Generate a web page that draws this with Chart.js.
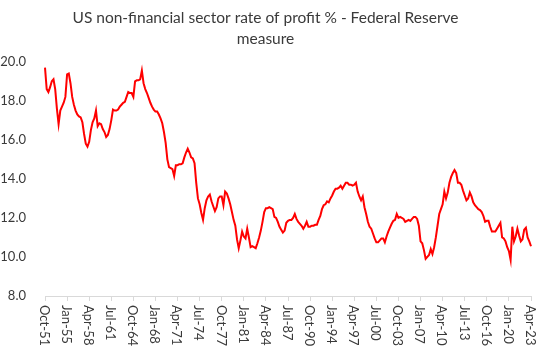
<!DOCTYPE html>
<html>
<head>
<meta charset="utf-8">
<script src="https://cdn.jsdelivr.net/npm/chart.js@4/dist/chart.umd.min.js"></script>
<style>
  html, body { margin: 0; padding: 0; background: #fff; }
  #wrap { width: 540px; height: 351px; }
</style>
</head>
<body>
<div id="wrap"><canvas id="chart"></canvas></div>
<script>
'use strict';

// quarterly series, Oct-51 .. Apr-23
var profitRate = [
  19.7, 18.6, 18.45, 18.7, 19.0, 19.1, 18.6, 17.6, 16.8, 17.5,
  17.7, 17.9, 18.2, 19.35, 19.4, 18.9, 18.2, 17.8, 17.5, 17.3,
  17.2, 17.15, 16.9, 16.3, 15.8, 15.65, 15.9, 16.5, 16.9, 17.1,
  17.5, 16.7, 16.85, 16.8, 16.55, 16.4, 16.15, 16.25, 16.55, 17.0,
  17.55, 17.5, 17.5, 17.55, 17.7, 17.8, 17.9, 17.95, 18.2, 18.45,
  18.4, 18.4, 18.2, 19.0, 19.05, 19.05, 19.1, 19.55, 18.9, 18.6,
  18.4, 18.15, 17.9, 17.7, 17.55, 17.45, 17.45, 17.3, 17.1, 16.85,
  16.4, 15.85, 15.0, 14.6, 14.55, 14.5, 14.15, 14.7, 14.7, 14.75,
  14.75, 14.8, 15.1, 15.35, 15.55, 15.35, 15.1, 15.05, 14.8, 13.8,
  13.0, 12.7, 12.25, 11.9, 12.5, 12.9, 13.1, 13.2, 12.85, 12.6,
  12.35, 12.55, 13.0, 13.1, 13.1, 12.65, 13.35, 13.25, 13.0, 12.7,
  12.3, 11.9, 11.6, 10.9, 10.45, 10.85, 11.3, 11.05, 10.95, 11.45,
  11.0, 10.5, 10.55, 10.5, 10.45, 10.7, 11.0, 11.35, 11.8, 12.3,
  12.5, 12.5, 12.55, 12.5, 12.45, 12.05, 12.0, 11.8, 11.55, 11.4,
  11.25, 11.35, 11.75, 11.85, 11.9, 11.9, 12.0, 12.2, 11.95, 11.8,
  11.7, 11.6, 11.45, 11.6, 11.8, 11.55, 11.55, 11.6, 11.6, 11.65,
  11.65, 11.9, 12.1, 12.45, 12.65, 12.7, 12.85, 12.8, 13.0, 13.15,
  13.35, 13.5, 13.5, 13.55, 13.65, 13.5, 13.65, 13.8, 13.8, 13.7,
  13.7, 13.65, 13.7, 13.8, 13.35, 13.1, 12.9, 13.1, 12.55, 12.2,
  11.8, 11.55, 11.45, 11.2, 10.95, 10.75, 10.75, 10.85, 10.95, 10.95,
  10.75, 11.05, 11.3, 11.5, 11.7, 11.85, 11.9, 12.2, 12.0, 12.05,
  12.0, 11.95, 11.8, 11.85, 11.9, 11.85, 11.95, 12.05, 12.05, 11.95,
  11.6, 10.8, 10.7, 10.35, 9.9, 10.0, 10.1, 10.4, 10.15, 10.5,
  11.0, 11.6, 12.2, 12.45, 12.7, 13.35, 13.0, 13.3, 13.8, 14.1,
  14.3, 14.45, 14.3, 13.8, 13.8, 13.7, 13.4, 13.15, 12.9, 13.0,
  13.3, 13.1, 12.8, 12.65, 12.55, 12.45, 12.4, 12.3, 12.1, 11.8,
  11.85, 11.85, 11.55, 11.3, 11.3, 11.3, 11.45, 11.6, 11.75, 11.0,
  10.95, 10.8, 10.5, 10.3, 9.85, 11.55, 10.8, 11.05, 11.45, 11.1,
  10.8, 10.9, 11.4, 11.5, 11.0, 10.8, 10.55
];

var quarterNames = ['Jan', 'Apr', 'Jul', 'Oct'];
var firstYear = 1951;
var firstQuarter = 3; // Oct
var labelEvery = 13;
var yTicks = { min: 8, max: 20, step: 2 };

var categories = profitRate.map(function(v, i) {
    var q = firstQuarter + i;
    var yr = (firstYear + Math.floor(q / 4)) % 100;
    return quarterNames[q % 4] + '-' + (yr < 10 ? '0' : '') + yr;
});

var textColor = '#3a3a3a';
var axisColor = '#d9d9d9';

// vertical x labels reading top to bottom, as in the reference
var verticalLabels = {
    id: 'verticalLabels',
    afterDraw: function(chart) {
        var xs = chart.scales.x,
            ctx = chart.ctx;
        ctx.save();
        ctx.font = '13px Lato';
        ctx.fillStyle = textColor;
        ctx.textAlign = 'left';
        ctx.textBaseline = 'middle';
        categories.forEach(function(lbl, i) {
            if (i % labelEvery !== 0) {
                return;
            }
            ctx.save();
            ctx.translate(xs.getPixelForValue(i) - 1, xs.top + 9);
            ctx.rotate(Math.PI / 2);
            ctx.fillText(lbl, 0, 0);
            ctx.restore();
        });
        ctx.restore();
    }
};

new Chart(document.getElementById('chart'), {
    type: 'line',
    data: {
        labels: categories,
        datasets: [{
            data: profitRate,
            borderColor: '#ff0000',
            borderWidth: 2,
            pointRadius: 0,
            tension: 0,
            fill: false
        }]
    },
    options: {
        responsive: true,
        maintainAspectRatio: false,
        animation: false,
        layout: { padding: { left: 0, right: 9, top: 0, bottom: 0 } },
        plugins: {
            legend: { display: false },
            tooltip: { enabled: false },
            title: {
                display: true,
                text: ['US non-financial sector rate of profit % - Federal Reserve', 'measure'],
                color: textColor,
                font: { family: 'Lato', size: 15.5, weight: 'normal', lineHeight: 1.38 },
                padding: { top: 7, bottom: 12 }
            }
        },
        scales: {
            x: {
                type: 'category',
                ticks: { display: false, autoSkip: false },
                grid: {
                    display: true,
                    drawOnChartArea: false,
                    drawTicks: true,
                    tickLength: 5,
                    color: function(c) {
                        return c.index % labelEvery === 0 ? axisColor : 'transparent';
                    }
                },
                border: { display: true, color: axisColor, width: 1 },
                afterFit: function(scale) {
                    scale.height = 55;
                }
            },
            y: {
                min: yTicks.min,
                max: yTicks.max,
                ticks: {
                    stepSize: yTicks.step,
                    padding: 11,
                    color: textColor,
                    font: { family: 'Lato', size: 13 },
                    callback: function(v) {
                        return v.toFixed(1);
                    }
                },
                grid: { display: false },
                border: { display: false },
                afterFit: function(scale) {
                    scale.width = 45;
                }
            }
        }
    },
    plugins: [verticalLabels]
});
</script>
</body>
</html>
